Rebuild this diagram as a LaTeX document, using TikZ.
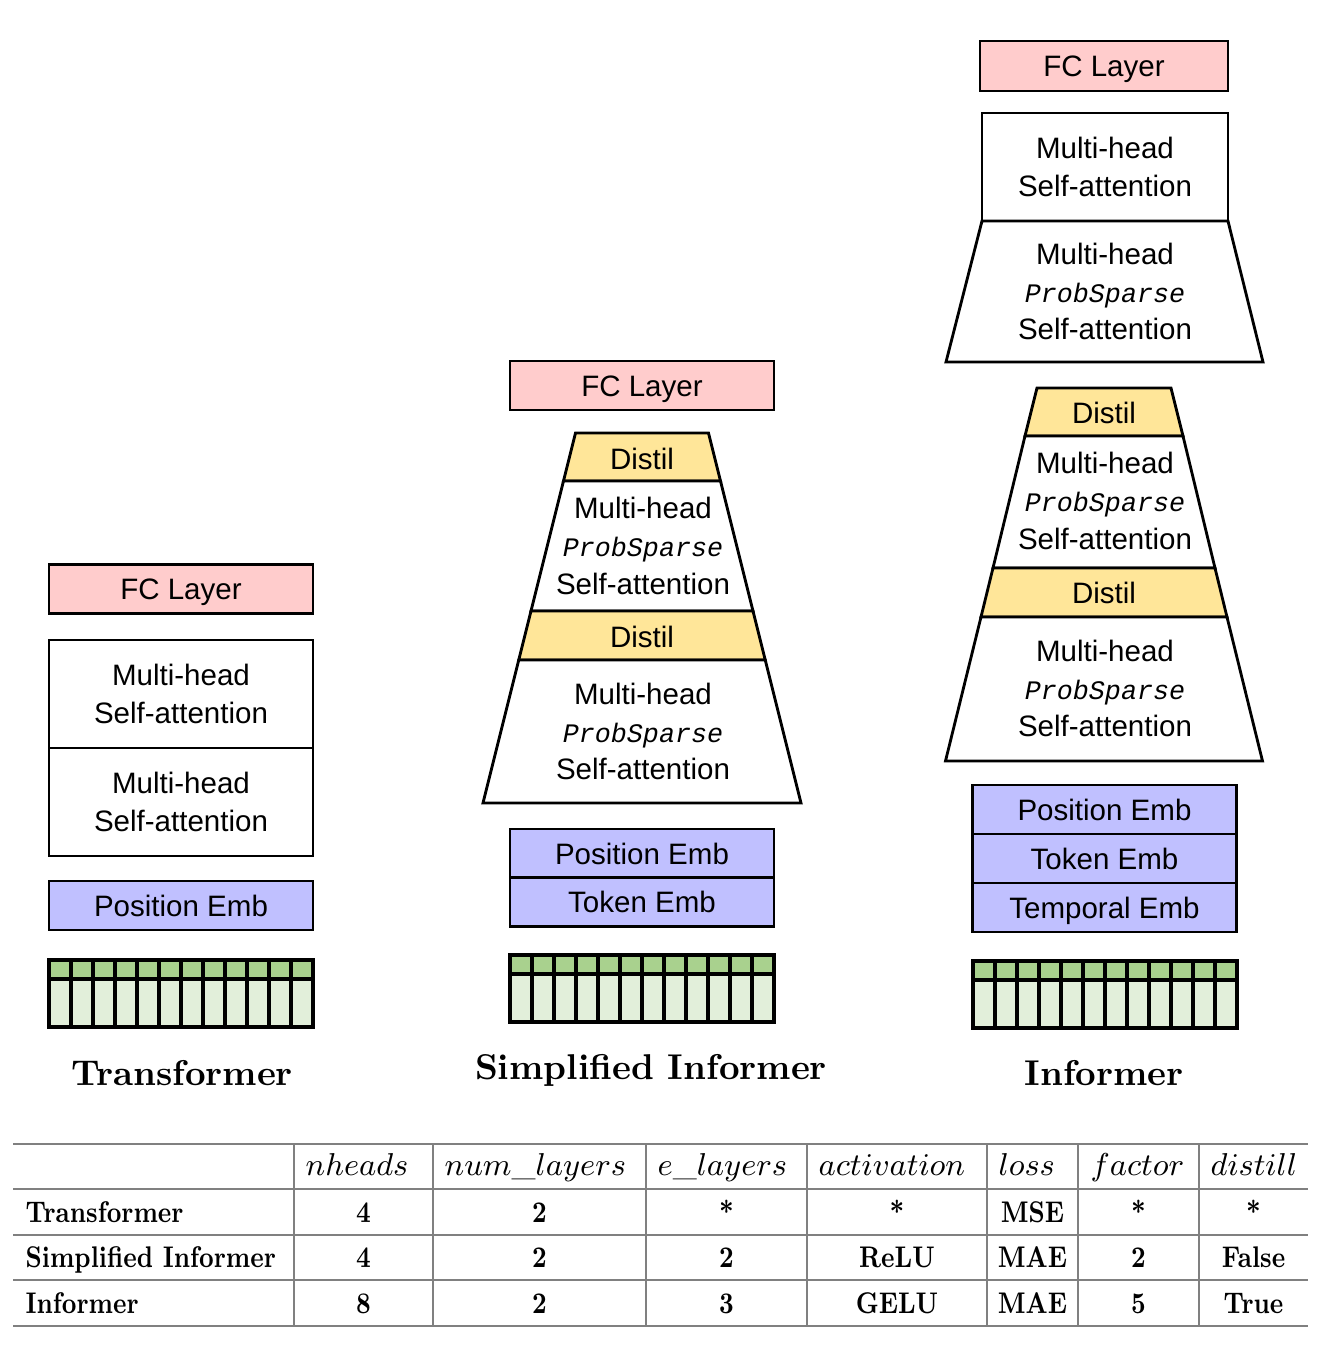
\documentclass[tikz,border=0pt]{standalone}
\usepackage{fontspec}
\newfontfamily\diagfont{Liberation Sans}
\newfontfamily\probfont{Liberation Mono}
\definecolor{fcpink}{HTML}{FFCCCC}
\definecolor{embblue}{HTML}{C0C0FF}
\definecolor{distil}{HTML}{FFE699}
\definecolor{gridhi}{HTML}{A9D18E}
\definecolor{gridlo}{HTML}{E2EFDA}
\newcommand{\prob}{{\probfont\itshape\fontsize{7.6}{10.7}\selectfont ProbSparse}}
\tikzset{
  blk/.style={draw, line width=0.8pt},
  txt/.style={font=\diagfont\fontsize{8.4}{10.7}\selectfont, align=center, inner sep=0pt},
  box/.style={blk, txt, minimum width=26.4mm, minimum height=4.9mm},
  fcbox/.style={box, fill=fcpink, text height=6pt, text depth=0pt},
  embbox/.style={box, fill=embblue, text height=6pt, text depth=0pt},
  title/.style={font=\fontsize{10.2}{12}\selectfont\bfseries, anchor=base},
  tabbody/.style={font=\fontsize{8.5}{10}\selectfont\bfseries, anchor=base, xscale=0.83, inner sep=0pt},
  tabhead/.style={font=\fontsize{8.85}{10}\selectfont, anchor=base west, inner sep=0pt},
  tabrule/.style={draw=gray, line width=0.5pt}
}
\begin{document}
\begin{tikzpicture}[x=0.1mm,y=-0.1mm]
\useasboundingbox (0,0) rectangle (1318,1363);
% Transformer
\node[fcbox] (tfc) at (181,589) {FC Layer};
\node[box, minimum height=10.8mm] (tmh1) at (181,694) {Multi-head\\Self-attention};
\node[box, minimum height=10.8mm] (tmh2) at (181,802) {Multi-head\\Self-attention};
\node[embbox] (tpos) at (181,905.5) {Position Emb};
% Simplified Informer
\node[fcbox] (sfc) at (642,385.5) {FC Layer};
\filldraw[blk, fill=distil] (575.5,433) -- (708.5,433) -- (720.5,481) -- (563.5,481) -- cycle;
\filldraw[blk, fill=white] (563.5,481) -- (720.5,481) -- (753,611) -- (531,611) -- cycle;
\filldraw[blk, fill=distil] (531,611) -- (753,611) -- (765.25,660) -- (518.75,660) -- cycle;
\filldraw[blk, fill=white] (518.75,660) -- (765.25,660) -- (801,803) -- (483,803) -- cycle;
\node[txt] (sd1) at (642,459) {Distil};
\node[txt] (smh1) at (643,546) {Multi-head\\\prob\\Self-attention};
\node[txt] (sd2) at (642,637) {Distil};
\node[txt] (smh2) at (643,731.5) {Multi-head\\\prob\\Self-attention};
\node[embbox] (spos) at (642,853.5) {Position Emb};
\node[embbox] (stok) at (642,902) {Token Emb};
% Informer
\node[fcbox, minimum width=24.8mm, minimum height=5mm] (ifc) at (1104,66) {FC Layer};
\node[box, minimum width=24.6mm, minimum height=10.8mm] (imh) at (1105,167) {Multi-head\\Self-attention};
\filldraw[blk, fill=white] (982,221) -- (1228,221) -- (1263,362) -- (946,362) -- cycle;
\node[txt] (imh0) at (1105,291.5) {Multi-head\\\prob\\Self-attention};
\filldraw[blk, fill=distil] (1037,388) -- (1171,388) -- (1183,436) -- (1025,436) -- cycle;
\filldraw[blk, fill=white] (1025,436) -- (1183,436) -- (1215,568) -- (993,568) -- cycle;
\filldraw[blk, fill=distil] (993,568) -- (1215,568) -- (1227,617) -- (981,617) -- cycle;
\filldraw[blk, fill=white] (981,617) -- (1227,617) -- (1262.5,761) -- (945.5,761) -- cycle;
\node[txt] (id1) at (1104,413) {Distil};
\node[txt] (imh1) at (1105,501) {Multi-head\\\prob\\Self-attention};
\node[txt] (id2) at (1104,593) {Distil};
\node[txt] (imh2) at (1105,688.5) {Multi-head\\\prob\\Self-attention};
\node[embbox] (ipos) at (1104.5,809.5) {Position Emb};
\node[embbox] (itok) at (1104.5,858.5) {Token Emb};
\node[embbox] (itmp) at (1104.5,907.5) {Temporal Emb};
% input grids
\foreach \gx/\gy in {49/960, 510/955, 973/961}{
  \fill[gridlo] (\gx,\gy) rectangle ++(264,67);
  \fill[gridhi] (\gx,\gy) rectangle ++(264,19);
  \draw[line width=0.9pt] (\gx,\gy) rectangle ++(264,67);
  \draw[line width=0.9pt] (\gx,\gy+19) -- ++(264,0);
  \foreach \k in {1,...,11}
    \draw[line width=0.9pt] (\gx+22*\k,\gy) -- ++(0,67);
}
\node[title] (ttl) at (182,1085) {Transformer};
\node[title] (stl) at (651,1079) {Simplified Informer};
\node[title] (itl) at (1104,1085) {Informer};
% table
\foreach \ty in {1144,1189,1235,1280,1326}
  \draw[tabrule] (13,\ty) -- (1308,\ty);
\foreach \tx in {294,433,646,807,987,1078,1199}
  \draw[tabrule] (\tx,1144) -- (\tx,1326);
\node[tabhead] (h1) at (305,1175) {$nheads$};
\node[tabhead] (h2) at (444,1175) {$num\_layers$};
\node[tabhead] (h3) at (657,1175) {$e\_layers$};
\node[tabhead] (h4) at (818,1175) {$activation$};
\node[tabhead] (h5) at (998,1175) {$loss$};
\node[tabhead] (h6) at (1090,1175) {$factor$};
\node[tabhead] (h7) at (1210,1175) {$distill$};
\foreach \ty/\nm/\va/\vb/\vc/\vd/\ve/\vf/\vg in {1222/Transformer/4/2/*/*/MSE/*/*,
    1267/Simplified Informer/4/2/2/ReLU/MAE/2/False, 1313/Informer/8/2/3/GELU/MAE/5/True}{
  \node[tabbody, anchor=base west] (r\ty) at (25,\ty) {\nm};
  \node[tabbody] (r\ty a) at (363.5,\ty) {\va};
  \node[tabbody] (r\ty b) at (539.5,\ty) {\vb};
  \node[tabbody] (r\ty c) at (726.5,\ty) {\vc};
  \node[tabbody] (r\ty d) at (897,\ty) {\vd};
  \node[tabbody] (r\ty e) at (1032.5,\ty) {\ve};
  \node[tabbody] (r\ty f) at (1138.5,\ty) {\vf};
  \node[tabbody] (r\ty g) at (1253.5,\ty) {\vg};
}
\end{tikzpicture}
\end{document}
